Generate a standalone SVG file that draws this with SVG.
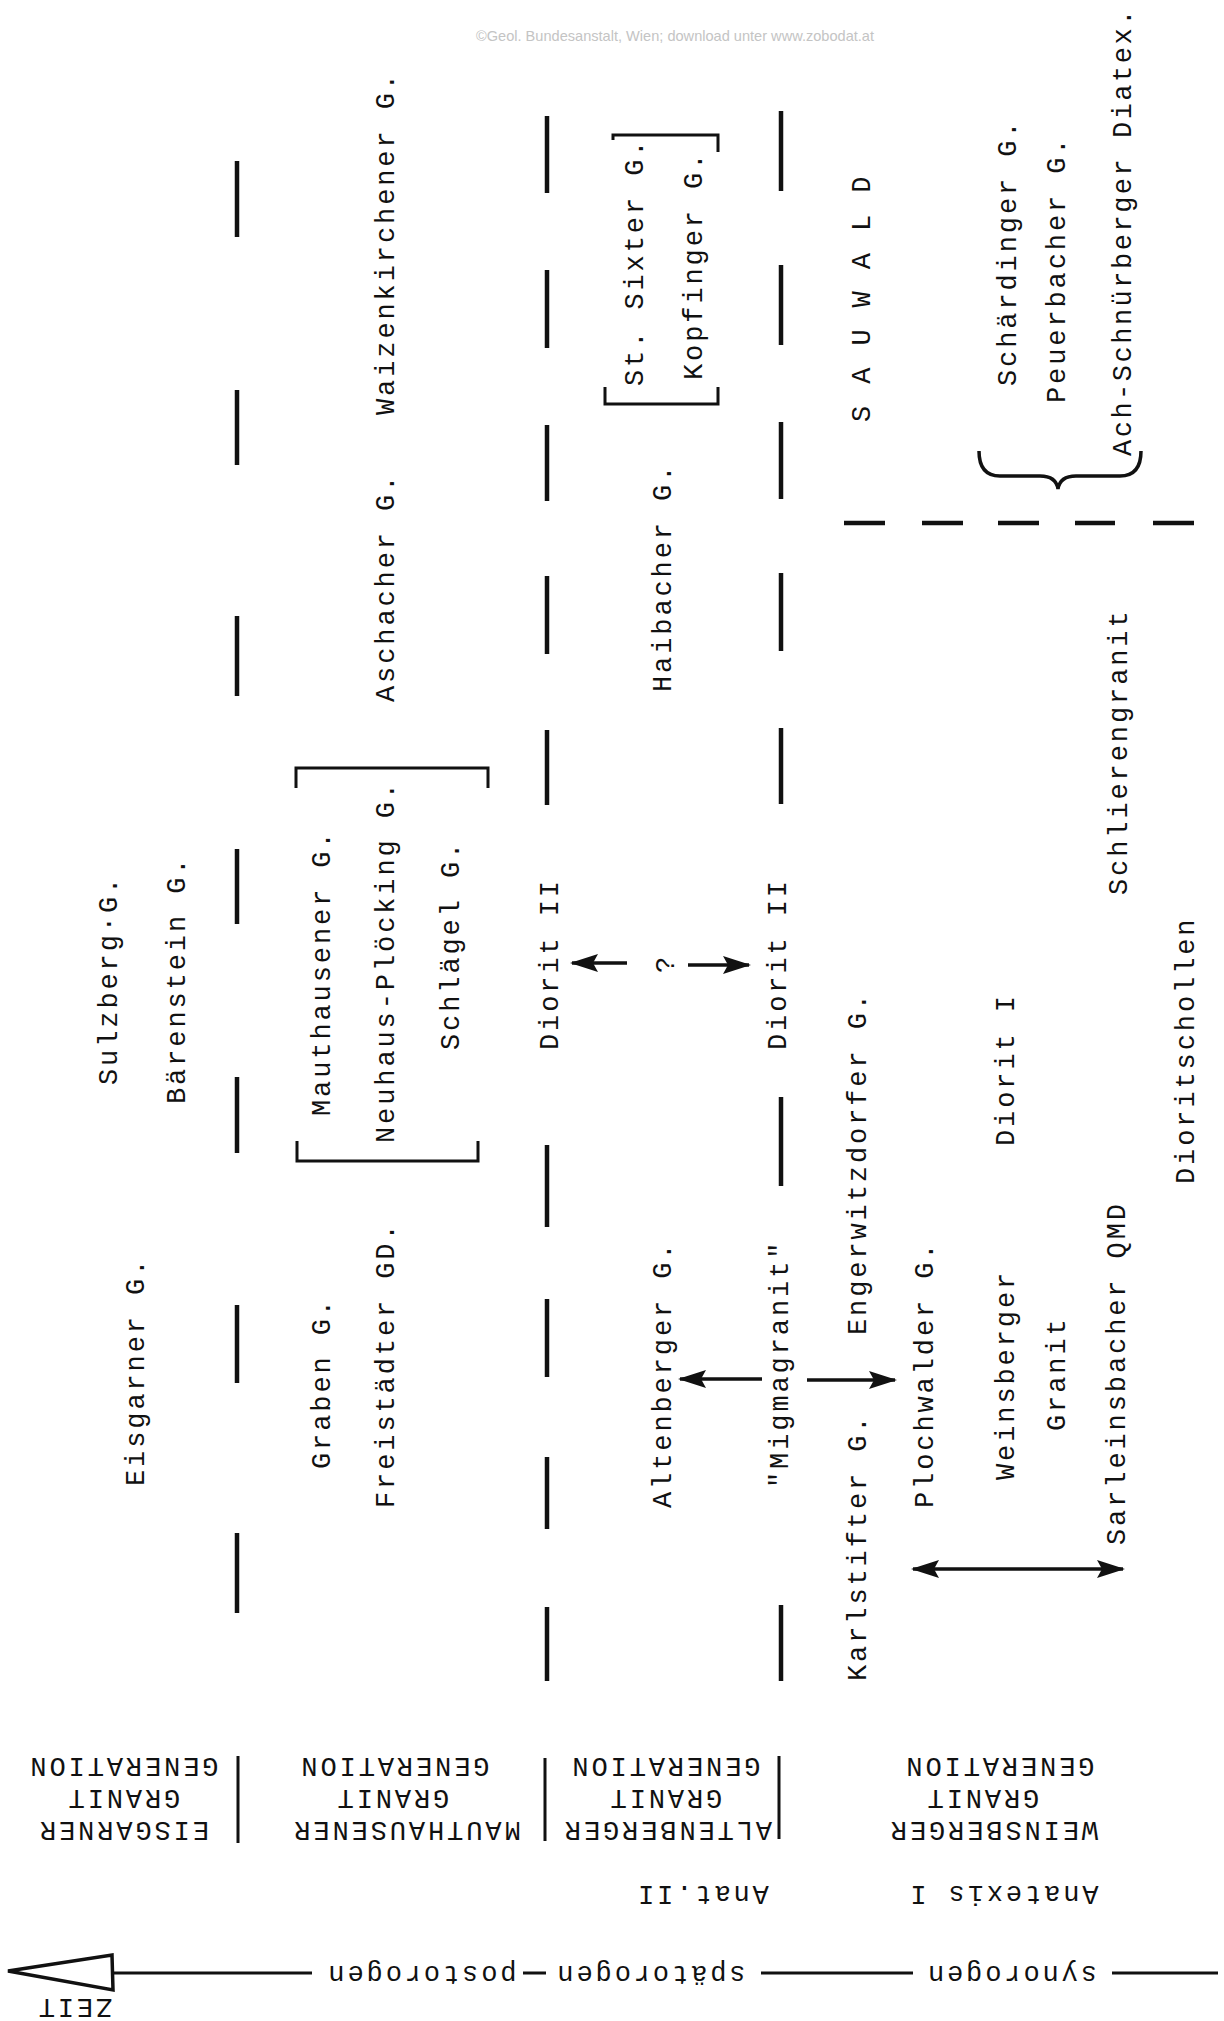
<svg xmlns="http://www.w3.org/2000/svg" width="1224" height="2021" viewBox="0 0 1224 2021">
<style>
.t{font-family:"Liberation Mono","DejaVu Sans Mono",monospace;font-size:27px;letter-spacing:2.9px;fill:#111}
.c{text-anchor:middle}
.d{stroke:#111;stroke-width:4.5;stroke-linecap:butt;fill:none}
.s{stroke:#111;stroke-width:3;fill:none}
.a{stroke:#111;stroke-width:3.5;fill:none}
.wm{font-family:"Liberation Sans",Arial,sans-serif;font-size:15px;fill:#c4c4c4}
</style>
<defs>
<marker id="ah" markerUnits="userSpaceOnUse" markerWidth="30" markerHeight="20" refX="26" refY="9" orient="auto-start-reverse">
<path d="M0,0 L28,9 L0,18 L5,9 z" fill="#111"/>
</marker>
</defs>
<rect width="1224" height="2021" fill="#fff"/>
<text class="wm c" x="675" y="41" textLength="398" lengthAdjust="spacingAndGlyphs">©Geol. Bundesanstalt, Wien; download unter www.zobodat.at</text>

<g id="separators">
<g id="colA" class="d">
<path d="M237,161V237M237,390V465M237,616V696M237,849V924M237,1077V1153M237,1305V1383M237,1533V1613"/>
</g>
<g id="colB" class="d">
<path d="M547,116V193M547,270V348M547,425V501M547,576V654M547,730V805M547,1145V1227M547,1299V1377M547,1457V1529M547,1607V1681"/>
</g>
<g id="colC" class="d">
<path d="M781,111V191M781,265V345M781,422V499M781,573V651M781,728V804M781,1097V1186M781,1605V1681"/>
</g>
<g id="sauwaldLine" class="d">
<path d="M844,523H885M922,523H963M998,523H1039M1075,523H1115M1153,523H1194"/>
</g>
<g id="genSeparators" class="s">
<path d="M238,1756V1843M545,1758V1841M779,1756V1839"/>
</g>
</g>

<g id="brackets">
<path class="s" d="M296,788V768H488V788"/>
<path class="s" d="M297,1141V1161H478V1141"/>
<path class="s" d="M613,140V135H718V152"/>
<path class="s" d="M605,387V404H718V387"/>
<path class="a" d="M979,451Q979,476 1000,476H1040Q1056,476 1058,489Q1060,476 1076,476H1120Q1141,476 1141,451"/>
</g>

<g id="connectors">
<line class="a" x1="627" y1="963" x2="572" y2="963" marker-end="url(#ah)"/>
<line class="a" x1="688" y1="965" x2="749" y2="965" marker-end="url(#ah)"/>
<line class="a" x1="762" y1="1379" x2="680" y2="1379" marker-end="url(#ah)"/>
<line class="a" x1="807" y1="1380" x2="895" y2="1380" marker-end="url(#ah)"/>
<line class="a" x1="913" y1="1569" x2="1123" y2="1569" marker-start="url(#ah)" marker-end="url(#ah)"/>
</g>

<g id="eisgarner-col">
<text class="t" transform="translate(117,1085) rotate(-90)">Sulzberg·G.</text>
<text class="t" transform="translate(185,1104) rotate(-90)">Bärenstein G.</text>
<text class="t" transform="translate(144,1486) rotate(-90)">Eisgarner G.</text>
</g>
<g id="mauthausener-col">
<text class="t" transform="translate(394,415) rotate(-90)">Waizenkirchener G.</text>
<text class="t" transform="translate(394,702) rotate(-90)">Aschacher G.</text>
<text class="t" transform="translate(330,1116) rotate(-90)">Mauthausener G.</text>
<text class="t" transform="translate(394,1143) rotate(-90)">Neuhaus-Plöcking G.</text>
<text class="t" transform="translate(459,1050) rotate(-90)">Schlägel G.</text>
<text class="t" transform="translate(330,1469) rotate(-90)">Graben G.</text>
<text class="t" transform="translate(394,1508) rotate(-90)">Freistädter GD.</text>
</g>
<g id="altenberger-col">
<text class="t" transform="translate(558,1050) rotate(-90)">Diorit II</text>
<text class="t" transform="translate(674,973) rotate(-90)">?</text>
<text class="t" transform="translate(786,1050) rotate(-90)">Diorit II</text>
<text class="t" transform="translate(643,386) rotate(-90)">St. Sixter G.</text>
<text class="t" transform="translate(702,380) rotate(-90)">Kopfinger G.</text>
<text class="t" transform="translate(671,692) rotate(-90)">Haibacher G.</text>
<text class="t" transform="translate(671,1508) rotate(-90)">Altenberger G.</text>
<text class="t" transform="translate(788,1488) rotate(-90)">"Migmagranit"</text>
</g>
<g id="weinsberger-col">
<text class="t" transform="translate(870,422) rotate(-90)">S A U W A L D</text>
<text class="t" transform="translate(1016,386) rotate(-90)">Schärdinger G.</text>
<text class="t" transform="translate(1065,403) rotate(-90)">Peuerbacher G.</text>
<text class="t" style="letter-spacing:2.5px" transform="translate(1131,456) rotate(-90)">Ach-Schnürberger Diatex.</text>
<text class="t" transform="translate(1127,895) rotate(-90)">Schlierengranit</text>
<text class="t" transform="translate(1194,1184) rotate(-90)">Dioritschollen</text>
<text class="t" transform="translate(1014,1146) rotate(-90)">Diorit I</text>
<text class="t" transform="translate(866,1335) rotate(-90)">Engerwitzdorfer G.</text>
<text class="t" transform="translate(866,1681) rotate(-90)">Karlstifter G.</text>
<text class="t" transform="translate(933,1508) rotate(-90)">Plochwalder G.</text>
<text class="t" transform="translate(1014,1480) rotate(-90)">Weinsberger</text>
<text class="t" transform="translate(1065,1431) rotate(-90)">Granit</text>
<text class="t" transform="translate(1125,1545) rotate(-90)">Sarleinsbacher QMD</text>
</g>

<g id="gen-eisgarner">
<text class="t c" transform="rotate(180 123 1822)" x="123" y="1822">EISGARNER</text>
<text class="t c" transform="rotate(180 123 1790)" x="123" y="1790">GRANIT</text>
<text class="t c" transform="rotate(180 123 1758)" x="123" y="1758">GENERATION</text>
</g>
<g id="gen-mauthausener">
<text class="t c" transform="rotate(180 406 1822)" x="406" y="1822">MAUTHAUSENER</text>
<text class="t c" transform="rotate(180 392 1790)" x="392" y="1790">GRANIT</text>
<text class="t c" transform="rotate(180 394 1758)" x="394" y="1758">GENERATION</text>
</g>
<g id="gen-altenberger">
<text class="t c" transform="rotate(180 667 1822)" x="667" y="1822">ALTENBERGER</text>
<text class="t c" transform="rotate(180 665 1790)" x="665" y="1790">GRANIT</text>
<text class="t c" transform="rotate(180 665 1758)" x="665" y="1758">GENERATION</text>
</g>
<g id="gen-weinsberger">
<text class="t c" transform="rotate(180 993 1822)" x="993" y="1822">WEINSBERGER</text>
<text class="t c" transform="rotate(180 982 1790)" x="982" y="1790">GRANIT</text>
<text class="t c" transform="rotate(180 999 1758)" x="999" y="1758">GENERATION</text>
</g>
<g id="anatexis">
<text class="t c" transform="rotate(180 702 1886)" x="702" y="1886">Anat.II</text>
<text class="t c" transform="rotate(180 1003 1886)" x="1003" y="1886">Anatexis I</text>
</g>

<g id="time-axis">
<polygon points="8,1971 112,1955 113,1990" fill="#fff" stroke="#111" stroke-width="3.5" stroke-linejoin="miter"/>
<path class="s" d="M113,1973H312M523,1973H546M761,1973H913M1112,1973H1218"/>
<text class="t c" transform="rotate(180 421 1966)" x="421" y="1966">postorogen</text>
<text class="t c" transform="rotate(180 650 1966)" x="650" y="1966">spätorogen</text>
<text class="t c" transform="rotate(180 1011 1966)" x="1011" y="1966">synorogen</text>
<text class="t c" transform="rotate(180 74 1999)" x="74" y="1999">ZEIT</text>
</g>
</svg>
